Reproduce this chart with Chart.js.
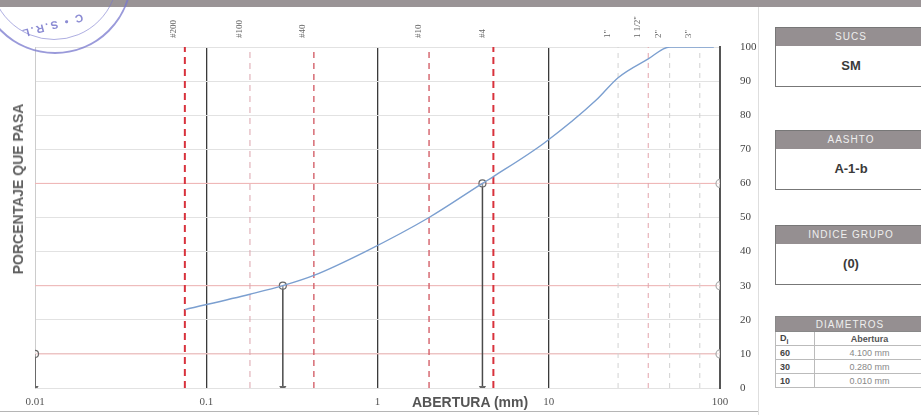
<!DOCTYPE html>
<html>
<head>
<meta charset="utf-8">
<script src="https://cdn.jsdelivr.net/npm/chart.js@4.4.1/dist/chart.umd.min.js"></script>
<style>
    body { margin: 0; background: #fff; width: 921px; height: 415px; overflow: hidden; position: relative; font-family: "Liberation Sans", Arial, sans-serif; }
    #topBar { position: absolute; left: 0; top: 0; width: 921px; height: 7px; background: #9a9496; }
    #chartWrap { position: absolute; left: 0; top: 0; width: 760px; height: 415px; }
    #sep { position: absolute; left: 758px; top: 7px; width: 1px; height: 408px; background: #dedede; }
    #bottomLine { position: absolute; left: 0; top: 411px; width: 758px; height: 1px; background: #b5b5b5; }
    #xTitle { position: absolute; left: 412px; top: 394px; font-size: 14px; font-weight: bold; color: #555; }
    #yTitle { position: absolute; left: 18px; top: 189px; font-size: 14px; font-weight: bold; color: #606060; white-space: nowrap; transform: translate(-50%, -50%) rotate(-90deg); }
    .stamp { position: absolute; left: -22px; top: -100px; width: 150px; height: 150px; border-radius: 50%; border: 2px solid rgba(120,120,205,0.75); }
    .stamp2 { position: absolute; left: -10px; top: -88px; width: 126px; height: 126px; border-radius: 50%; border: 1px solid rgba(120,120,205,0.6); }
    .stampTxt { position: absolute; left: 20px; top: 20px; font-size: 11px; font-weight: bold; color: rgba(110,110,200,0.8); transform: rotate(165deg); letter-spacing: 2px; }
    .box { position: absolute; left: 775px; width: 150px; border: 1px solid #777; background: #fff; }
    .hd { height: 18px; line-height: 18px; background: #958f91; color: #eeeeee; font-size: 10px; text-align: center; letter-spacing: 1px; }
    .bd { height: 40px; line-height: 40px; text-align: center; font-size: 13px; font-weight: bold; color: #3a3a3a; }
    table { position: absolute; left: 775px; top: 316px; width: 150px; border-collapse: collapse; font-size: 9px; }
    th { height: 14px; padding: 0; background: #958f91; color: #eeeeee; font-weight: normal; font-size: 10px; letter-spacing: 1px; border: 1px solid #888; }
    td { height: 13px; padding: 0 4px; border: 1px solid #bbb; color: #555; }
    td.d { width: 30px; font-weight: bold; color: #444; }
    td.v { text-align: center; color: #888; }
</style>
</head>
<body>
<div id="chartWrap"><canvas id="granChart" width="760" height="415"></canvas></div>
<div id="topBar"></div>
<div class="stamp"></div>
<div class="stamp2"></div>
<div class="stampTxt">C • S.R.L</div>
<div id="sep"></div>
<div id="bottomLine"></div>
<div id="xTitle">ABERTURA (mm)</div>
<div id="yTitle">PORCENTAJE QUE PASA</div>

<div class="box" style="top:27px"><div class="hd">SUCS</div><div class="bd">SM</div></div>
<div class="box" style="top:130px"><div class="hd">AASHTO</div><div class="bd">A-1-b</div></div>
<div class="box" style="top:225px"><div class="hd">INDICE GRUPO</div><div class="bd">(0)</div></div>
<table>
    <tr><th colspan="2">DIAMETROS</th></tr>
    <tr><td class="d">D<sub style="font-size:7px">i</sub></td><td class="v" style="color:#555;font-weight:bold">Abertura</td></tr>
    <tr><td class="d">60</td><td class="v">4.100 mm</td></tr>
    <tr><td class="d">30</td><td class="v">0.280 mm</td></tr>
    <tr><td class="d">10</td><td class="v">0.010 mm</td></tr>
</table>

<script>
// Curva granulometrica (abertura en mm, porcentaje que pasa)
const aberturas = [0.075, 0.18, 0.28, 0.425, 0.85, 2.0, 4.1, 4.75, 9.5, 19.0, 25.4, 38.1, 50.8, 76.2, 92];
const pasa = [23, 27.5, 30, 33, 40, 50, 60, 62, 72, 84.5, 91, 96.5, 100, 100, 100];

// Tamices (lineas verticales + etiquetas arriba)
const tamices = [0.075, 0.18, 0.425, 2.0, 4.75, 25.4, 38.1, 50.8, 76.2];
const tamicesLabels = ['#200', '#100', '#40', '#10', '#4', '1"', '1 1/2"', '2"', '3"'];

// Diametros D60, D30, D10
const dPorcentaje = [60, 30, 10];
const dAbertura = [4.1, 0.28, 0.01];

// Ejes
const xTicks = [0.01, 0.1, 1, 10, 100];
const xTickLabels = ['0.01', '0.1', '1', '10', '100'];
const xMin = 0.01;
const xMax = 100;

const datasets = [];

// curva
datasets.push({
    data: aberturas.map((a, i) => ({ x: a, y: pasa[i] })),
    borderColor: '#7b9fd0',
    borderWidth: 1.4,
    pointRadius: 0,
    cubicInterpolationMode: 'monotone',
    order: 1
});

// lineas de los tamices
function estiloTamiz(i) {
    if (i === 0 || i === 4) return { color: '#d8323c', width: 2, dash: [7, 5] };
    if (i === 1) return { color: '#dba4ac', width: 1, dash: [6, 5] };
    if (i < 5) return { color: '#d4606a', width: 1.4, dash: [6, 5] };
    if (i === 6) return { color: '#e3a3ab', width: 1, dash: [5, 5] };
    return { color: '#d2d2d2', width: 1, dash: [5, 5] };
}

tamices.forEach((t, i) => {
    const st = estiloTamiz(i);
    datasets.push({
        data: [{ x: t, y: 0 }, { x: t, y: 100 }],
        borderColor: st.color,
        borderWidth: st.width,
        borderDash: st.dash,
        pointRadius: 0,
        order: 5
    });
});

// D60, D30, D10: horizontal roja, vertical negra, marcadores
dPorcentaje.forEach((p, i) => {
    datasets.push({
        data: [{ x: xMin, y: p }, { x: xMax, y: p }],
        borderColor: '#f1b3b3',
        borderWidth: 1,
        pointRadius: [0, 4],
        pointStyle: 'circle',
        pointBorderColor: '#aaaaaa',
        pointBackgroundColor: 'rgba(255,255,255,0.6)',
        pointBorderWidth: 1.2,
        order: 6
    });
    datasets.push({
        data: [{ x: dAbertura[i], y: 0 }, { x: dAbertura[i], y: p }],
        borderColor: '#4a4a4a',
        borderWidth: 1.5,
        pointRadius: [3, 3.5],
        pointStyle: ['triangle', 'circle'],
        pointRotation: [180, 0],
        pointBorderColor: '#666',
        pointBackgroundColor: ['#666', 'rgba(255,255,255,0.4)'],
        pointBorderWidth: 1.2,
        order: 2
    });
});

const serif = '"Liberation Serif", "DejaVu Serif", serif';

new Chart(document.getElementById('granChart').getContext('2d'), {
    type: 'line',
    data: { datasets: datasets },
    options: {
        responsive: false,
        animation: false,
        layout: { padding: 0 },
        plugins: { legend: { display: false }, tooltip: { enabled: false } },
        scales: {
            x: {
                type: 'logarithmic',
                position: 'bottom',
                min: xMin,
                max: xMax,
                afterBuildTicks: axis => { axis.ticks = xTicks.map(v => ({ value: v })); },
                afterFit: scale => { scale.height = 27; },
                ticks: {
                    autoSkip: false,
                    maxRotation: 0,
                    padding: 8,
                    color: '#555',
                    font: { family: serif, size: 11 },
                    callback: (value, index) => xTickLabels[index]
                },
                grid: {
                    drawTicks: false,
                    lineWidth: 1.3,
                    color: ctx => (ctx.tick && (ctx.tick.value === xMin || ctx.tick.value === xMax)) ? 'rgba(0,0,0,0)' : '#3a3a3a'
                },
                border: { display: false }
            },
            x2: {
                type: 'logarithmic',
                position: 'top',
                min: xMin,
                max: xMax,
                afterBuildTicks: axis => { axis.ticks = tamices.map(v => ({ value: v })); },
                afterFit: scale => { scale.height = 47; },
                ticks: {
                    autoSkip: false,
                    minRotation: 90,
                    maxRotation: 90,
                    padding: 1,
                    color: '#666',
                    font: { family: serif, size: 9 },
                    callback: (value, index) => tamicesLabels[index]
                },
                grid: { display: false },
                border: { display: false }
            },
            y: {
                position: 'left',
                min: 0,
                max: 100,
                afterFit: scale => { scale.width = 35; },
                ticks: { display: false, stepSize: 10 },
                grid: { color: '#e2e2e2', lineWidth: 1, drawTicks: false },
                border: { color: '#cccccc' }
            },
            y2: {
                position: 'right',
                min: 0,
                max: 100,
                afterFit: scale => { scale.width = 40; },
                ticks: {
                    stepSize: 10,
                    padding: 12,
                    color: '#444',
                    font: { family: serif, size: 11 }
                },
                grid: { display: false },
                border: { color: '#555', width: 2 }
            }
        }
    }
});
</script>
</body>
</html>
